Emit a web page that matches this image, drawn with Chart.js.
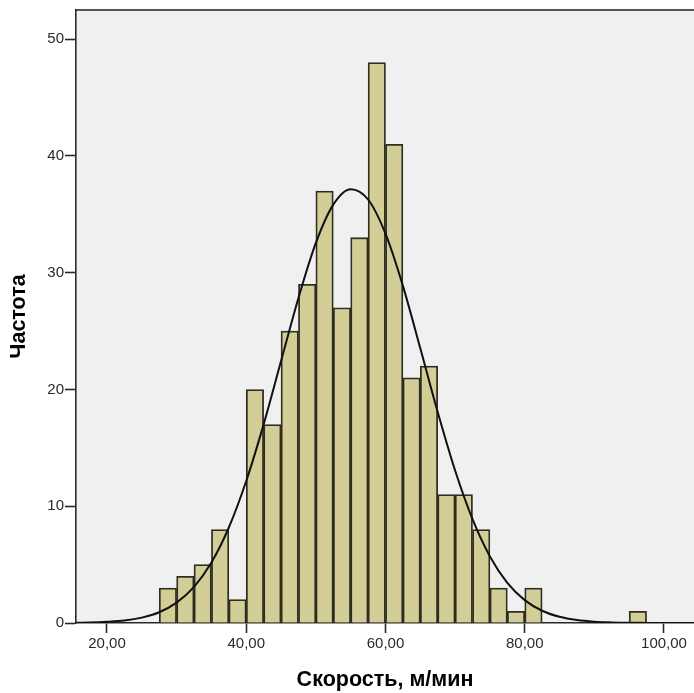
<!DOCTYPE html>
<html>
<head>
<meta charset="utf-8">
<script src="https://cdn.jsdelivr.net/npm/chart.js@4"></script>
<style>
    html, body { margin: 0; padding: 0; background: #ffffff; }
    #wrap { width: 694px; height: 693px; }
</style>
</head>
<body>
<div id="wrap"><canvas id="chartVelocidade"></canvas></div>
<script>
// centros das classes (largura 2,5) e frequências
const centrosClasses = [28.75, 31.25, 33.75, 36.25, 38.75, 41.25, 43.75, 46.25, 48.75, 51.25,
    53.75, 56.25, 58.75, 61.25, 63.75, 66.25, 68.75, 71.25, 73.75, 76.25, 78.75, 81.25, 96.25];
const frequencias = [3, 4, 5, 8, 2, 20, 17, 25, 29, 37, 27, 33, 48, 41, 21, 22, 11, 11, 8, 3, 1, 3, 1];

// curva normal
const curvaX = [15, 17.5, 20, 22.5, 25, 27.5, 30, 32.5, 35, 37.5, 40, 42.5, 45, 47.5, 50, 52.5, 55,
    57.5, 60, 62.5, 65, 67.5, 70, 72.5, 75, 77.5, 80, 82.5, 85, 87.5, 90, 92.5, 95, 97.5, 100, 102.5, 105];
const curvaY = [0.02, 0.04, 0.1, 0.21, 0.46, 0.92, 1.74, 3.09, 5.18, 8.18, 12.16, 17.01, 22.43, 27.84,
    32.55, 35.83, 37.15, 36.27, 33.34, 28.87, 23.53, 18.07, 13.06, 8.89, 5.7, 3.44, 1.96, 1.05, 0.53,
    0.25, 0.11, 0.05, 0.02, 0.01, 0, 0, 0];

const ticksX = [20, 40, 60, 80, 100];
const ticksY = [0, 10, 20, 30, 40, 50];

const fundoPlot = {
    id: "fundoPlot",
    beforeDraw(chart) {
        const { ctx, chartArea } = chart;
        ctx.save();
        ctx.fillStyle = "#f0f0f0";
        ctx.fillRect(chartArea.left, chartArea.top, chartArea.right - chartArea.left, chartArea.bottom - chartArea.top);
        ctx.strokeStyle = "#555555";
        ctx.lineWidth = 2;
        ctx.beginPath();
        ctx.moveTo(chartArea.left, chartArea.top);
        ctx.lineTo(chartArea.right, chartArea.top);
        ctx.stroke();
        ctx.restore();
    },
};

const ctx = document.getElementById("chartVelocidade");

new Chart(ctx, {
    type: "bar",
    data: {
        datasets: [
            {
                type: "line",
                data: curvaX.map((x, i) => ({ x: x, y: curvaY[i] })),
                borderColor: "#111111",
                borderWidth: 2,
                pointRadius: 0,
                fill: false,
                cubicInterpolationMode: "monotone",
                clip: 0,
            },
            {
                label: "Частота",
                data: centrosClasses.map((x, i) => ({ x: x, y: frequencias[i] })),
                backgroundColor: "#d3ce97",
                borderColor: "#2e2e20",
                borderWidth: 1.8,
                barPercentage: 1,
                categoryPercentage: 1,
            },
        ],
    },
    options: {
        responsive: true,
        maintainAspectRatio: false,
        animation: false,
        layout: { padding: { top: 10, right: 0, left: 0, bottom: 0 } },
        plugins: {
            legend: { display: false },
            tooltip: { enabled: false },
        },
        scales: {
            x: {
                type: "linear",
                min: 15.55,
                max: 104.31,
                offset: false,
                afterFit: (scale) => { scale.height = 70; },
                afterBuildTicks: (scale) => { scale.ticks = ticksX.map((v) => ({ value: v })); },
                grid: {
                    offset: false,
                    drawOnChartArea: false,
                    drawTicks: true,
                    tickLength: 10,
                    tickWidth: 1.6,
                    color: "#2a2a2a",
                },
                border: { display: true, color: "#2a2a2a", width: 1.6 },
                ticks: {
                    padding: 2,
                    maxRotation: 0,
                    color: "#2a2a2a",
                    font: { family: "'Liberation Sans', Arial", size: 15 },
                    callback: (v) => Number(v).toFixed(2).replace(".", ","),
                },
                title: {
                    display: true,
                    text: "Скорость, м/мин",
                    color: "#000000",
                    font: { family: "'Liberation Sans', Arial", size: 21.5, weight: "bold" },
                    padding: { top: 0, bottom: 0 },
                },
            },
            y: {
                min: 0,
                max: 52.5,
                afterFit: (scale) => { scale.width = 76; },
                afterBuildTicks: (scale) => { scale.ticks = ticksY.map((v) => ({ value: v })); },
                grid: {
                    drawOnChartArea: false,
                    drawTicks: true,
                    tickLength: 11,
                    tickWidth: 1.6,
                    color: "#2a2a2a",
                },
                border: { display: true, color: "#2a2a2a", width: 1.6 },
                ticks: {
                    padding: 1,
                    color: "#2a2a2a",
                    font: { family: "'Liberation Sans', Arial", size: 15 },
                },
                title: {
                    display: true,
                    text: "Частота",
                    color: "#000000",
                    font: { family: "'Liberation Sans', Arial", size: 21.5, weight: "bold" },
                    padding: { top: 6.5, bottom: 0 },
                },
            },
        },
    },
    plugins: [fundoPlot],
});
</script>
</body>
</html>
